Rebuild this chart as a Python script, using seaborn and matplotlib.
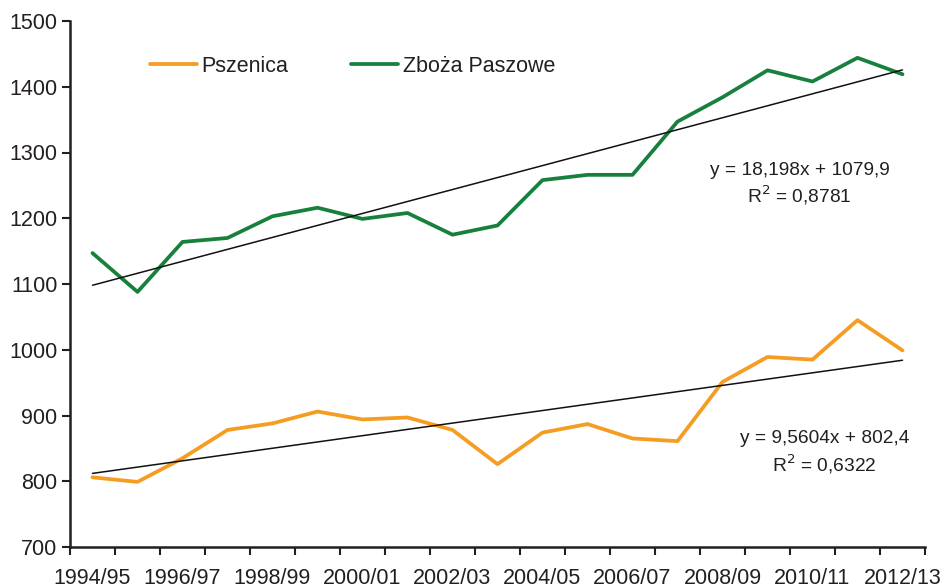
import numpy as np
import pandas as pd
import matplotlib
matplotlib.use("Agg")
import matplotlib.pyplot as plt
from matplotlib.ticker import FixedLocator, NullFormatter
import seaborn as sns

seasons = ["1994/95", "1995/96", "1996/97", "1997/98", "1998/99", "1999/00",
           "2000/01", "2001/02", "2002/03", "2003/04", "2004/05", "2005/06",
           "2006/07", "2007/08", "2008/09", "2009/10", "2010/11", "2011/12",
           "2012/13"]
pszenica = [806, 799, 835, 878, 888, 906, 894, 897, 878, 826, 874, 887,
            865, 861, 951, 989, 985, 1045, 999]
zboza = [1147, 1088, 1164, 1170, 1203, 1216, 1199, 1208, 1175, 1189, 1258,
         1266, 1266, 1347, 1384, 1425, 1408, 1444, 1419]
series_names = ["Pszenica", "Zboża Paszowe"]
trend_slope = [9.5604, 18.198]
trend_intercept = [802.4, 1079.9]
trend_text = ["y = 9,5604x + 802,4\nR$^2$ = 0,6322",
              "y = 18,198x + 1079,9\nR$^2$ = 0,8781"]
colors = ["#F59D22", "#17803D"]

sns.set_theme(style="white")
plt.rcParams["font.family"] = ["Liberation Sans", "DejaVu Sans"]
TXT = "#231F20"

n = len(seasons)
idx = np.arange(n)
df = pd.DataFrame({
    "idx": np.concatenate([idx, idx]),
    "value": pszenica + zboza,
    "series": [series_names[0]] * n + [series_names[1]] * n,
})

fig = plt.figure(figsize=(9.45, 5.87), dpi=100)
ax = fig.add_axes([70 / 945, 1 - 547 / 587, 855 / 945, 526 / 587])

sns.lineplot(data=df, x="idx", y="value", hue="series", palette=colors,
             linewidth=2.7, ax=ax, legend=True)

# trend lines
xs = np.array([1, n])
for s, b in zip(trend_slope, trend_intercept):
    ax.plot(xs - 1, s * xs + b, color="#111111", linewidth=1.1, zorder=3)

ax.text(15.71, 1251, trend_text[1], ha="center", va="center", fontsize=13.8,
        color=TXT, linespacing=1.25)
ax.text(16.27, 843, trend_text[0], ha="center", va="center", fontsize=13.8,
        color=TXT, linespacing=1.25)

ax.set_xlim(-0.5, n - 0.5)
ax.set_ylim(700, 1500)
ax.set_yticks(np.arange(700, 1501, 100))
ax.xaxis.set_major_locator(FixedLocator(np.arange(-0.5, n, 1.0)))
ax.xaxis.set_major_formatter(NullFormatter())
ax.xaxis.set_minor_locator(FixedLocator(idx[::2]))
ax.set_xticklabels([seasons[i] for i in idx[::2]], minor=True)
ax.tick_params(axis="x", which="major", length=6, width=1.5, color=TXT,
               direction="out", bottom=True)
ax.tick_params(axis="x", which="minor", length=0, pad=15, labelsize=15.5,
               labelcolor=TXT, bottom=True)
ax.tick_params(axis="y", length=6, width=1.5, color=TXT, direction="out",
               left=True, labelsize=15.5, labelcolor=TXT, pad=3)
ax.set_xlabel("")
ax.set_ylabel("")
for side in ["top", "right"]:
    ax.spines[side].set_visible(False)
for side in ["left", "bottom"]:
    ax.spines[side].set_color(TXT)
    ax.spines[side].set_linewidth(1.8)

handles, labels = ax.get_legend_handles_labels()
ax.legend(handles, labels, ncol=2, frameon=False, fontsize=15.5,
          loc="center left", bbox_to_anchor=((150 - 70) / 855, (547 - 66) / 526),
          borderpad=0, borderaxespad=0,
          handlelength=2.2, handletextpad=0.2, columnspacing=2.9)
for t in ax.get_legend().get_texts():
    t.set_color(TXT)

fig.savefig("out.png", dpi=100)
